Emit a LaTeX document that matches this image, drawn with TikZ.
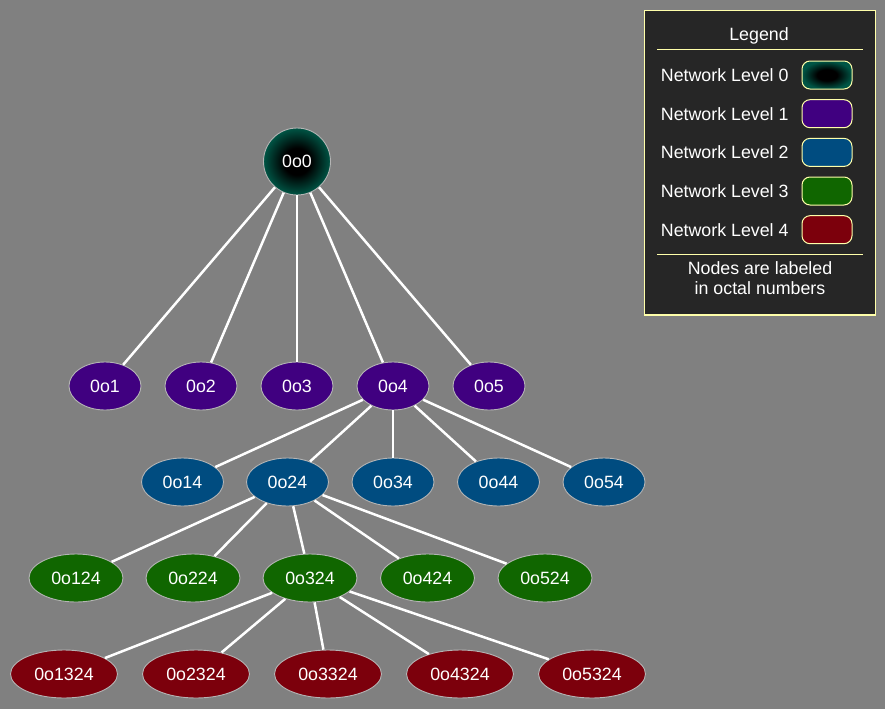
\documentclass[tikz,border=0pt]{standalone}
\usepackage{fontspec}
\setmainfont{Liberation Sans}
\usetikzlibrary{shapes.geometric}
\definecolor{bgc}{HTML}{808080}
\definecolor{lvlA}{HTML}{005545}
\definecolor{lvlB}{HTML}{400080}
\definecolor{lvlC}{HTML}{004C80}
\definecolor{lvlD}{HTML}{106600}
\definecolor{lvlE}{HTML}{7C000C}
\definecolor{legbg}{HTML}{262626}
\definecolor{legline}{HTML}{FFFFAA}
\definecolor{nodeborder}{HTML}{B4B4B4}
\pgfdeclareradialshading{rootshade}{\pgfpoint{0bp}{0bp}}{color(0bp)=(black); color(10bp)=(black); color(25bp)=(lvlA); color(50bp)=(lvlA)}
\tikzset{
  txt/.style={font=\fontsize{17.8}{21}\selectfont, text=white},
  netnode/.style={txt, ellipse, draw=nodeborder, line width=0.9pt, inner sep=0pt, minimum height=48},
  lone/.style={netnode, fill=lvlB, minimum width=72},
  ltwo/.style={netnode, fill=lvlC, minimum width=82},
  lthree/.style={netnode, fill=lvlD, minimum width=94},
  lfour/.style={netnode, fill=lvlE, minimum width=107},
  rootnode/.style={txt, circle, draw=nodeborder, line width=0.9pt, inner sep=0pt, minimum size=67, shading=rootshade},
  edge/.style={draw=white, line width=2.5pt},
  swatch/.style={draw=legline, line width=1pt, rounded corners=8, minimum width=50, minimum height=28, inner sep=0pt},
  leglabel/.style={txt, anchor=west, inner sep=0pt},
}
\begin{document}
\begin{tikzpicture}[x=1pt,y=-1pt]
\fill[bgc] (0,0) rectangle (885,709);
\useasboundingbox (0,0) rectangle (885,709);

% root
\node[rootnode] (n0) at (297,161.5) {0o0};
% level 1
\node[lone] (n1) at (105,386) {0o1};
\node[lone] (n2) at (201,386) {0o2};
\node[lone] (n3) at (297,386) {0o3};
\node[lone] (n4) at (393,386) {0o4};
\node[lone] (n5) at (489,386) {0o5};
% level 2
\node[ltwo] (n14) at (182.5,482) {0o14};
\node[ltwo] (n24) at (287.5,482) {0o24};
\node[ltwo] (n34) at (393,482) {0o34};
\node[ltwo] (n44) at (498.5,482) {0o44};
\node[ltwo] (n54) at (604,482) {0o54};
% level 3
\node[lthree] (n124) at (76,578) {0o124};
\node[lthree] (n224) at (193,578) {0o224};
\node[lthree] (n324) at (310,578) {0o324};
\node[lthree] (n424) at (427.5,578) {0o424};
\node[lthree] (n524) at (545,578) {0o524};
% level 4
\node[lfour] (n1324) at (64,674) {0o1324};
\node[lfour] (n2324) at (196,674) {0o2324};
\node[lfour] (n3324) at (328,674) {0o3324};
\node[lfour] (n4324) at (460,674) {0o4324};
\node[lfour] (n5324) at (592,674) {0o5324};

% edges
\foreach \t in {n1,n2,n3,n4,n5} \draw[edge] (n0) -- (\t);
\foreach \t in {n14,n24,n34,n44,n54} \draw[edge] (n4) -- (\t);
\foreach \t in {n124,n224,n324,n424,n524} \draw[edge] (n24) -- (\t);
\foreach \t in {n1324,n2324,n3324,n4324,n5324} \draw[edge] (n324) -- (\t);

% legend
\node[draw=legline, fill=legbg, line width=1.3pt, minimum width=231, minimum height=304.5, inner sep=0pt] (legbox) at (759.8,162.7) {};
\node[txt] (legtitle) at (759,36) {Legend};
\coordinate (lineAl) at (657.3,50);
\coordinate (lineAr) at (862.7,50);
\draw[legline, line width=1pt] (lineAl) -- (lineAr);
\node[leglabel] (lab0) at (660.7,75) {Network Level 0};
\node[leglabel] (lab1) at (660.7,113.7) {Network Level 1};
\node[leglabel] (lab2) at (660.7,152.4) {Network Level 2};
\node[leglabel] (lab3) at (660.7,191) {Network Level 3};
\node[leglabel] (lab4) at (660.7,229.7) {Network Level 4};
\node[swatch, shading=rootshade] (sw0) at (827,75) {};
\node[swatch, fill=lvlB] (sw1) at (827,113.7) {};
\node[swatch, fill=lvlC] (sw2) at (827,152.4) {};
\node[swatch, fill=lvlD] (sw3) at (827,191) {};
\node[swatch, fill=lvlE] (sw4) at (827,229.7) {};
\coordinate (lineBl) at (657.3,254.3);
\coordinate (lineBr) at (862.7,254.3);
\draw[legline, line width=1pt] (lineBl) -- (lineBr);
\node[txt] (note1) at (760,268.3) {Nodes are labeled};
\node[txt] (note2) at (760,287.7) {in octal numbers};
\end{tikzpicture}
\end{document}
